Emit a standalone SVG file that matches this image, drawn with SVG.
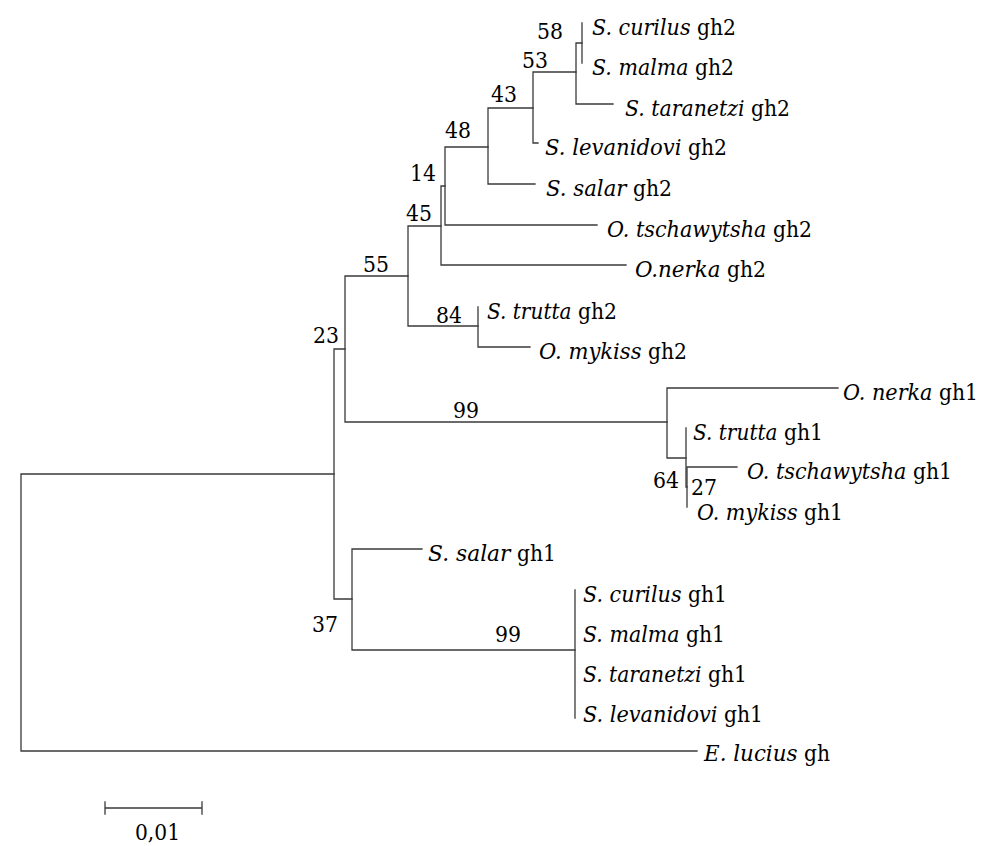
<svg xmlns="http://www.w3.org/2000/svg" width="999" height="846" viewBox="0 0 999 846">
<style>
  .br { fill: none; stroke: #3a3a3a; stroke-width: 1.3; stroke-linecap: square; }
  .t { font-family: 'DejaVu Serif', 'Liberation Serif', serif; font-size: 22px; fill: #000; }
  .i { font-style: italic; }
</style>
<rect width="999" height="846" fill="#fff"/>
<g id="connectors">
  <path class="br" d="M21 474 V611.5 M21 613 V751 M21 474 H334 M21 751 H697"/>
  <path class="br" d="M334 349 V599 M334 349 H345 M334 599 H352"/>
  <path class="br" d="M345 276 V422 M345 276 H408 M345 422 H667"/>
  <path class="br" d="M408 226 V326 M408 226 H441 M408 326 H478"/>
  <path class="br" d="M441 186 V265 M441 186 H445 M441 265 H626"/>
  <path class="br" d="M445 147 V225 M445 147 H488 M445 225 H597"/>
  <path class="br" d="M488 108 V184 M488 108 H533 M488 184 H535"/>
  <path class="br" d="M533 72 V143 M533 72 H576 M533 143 H538"/>
  <path class="br" d="M576 43 V104 M576 43 H582 M576 104 H613"/>
  <path class="br" d="M582 23 V63"/>
  <path class="br" d="M478 307 V347 M478 347 H530"/>
  <path class="br" d="M667 388 V458 M667 388 H838 M667 458 H686"/>
  <path class="br" d="M686 428 V487 M686 487 H687"/>
  <path class="br" d="M687 467 V507 M687 467 H737"/>
  <path class="br" d="M352 549 V650 M352 549 H422 M352 650 H575"/>
  <path class="br" d="M575 590 V718"/>
</g>
<g id="bootstrap">
  <g id="n58"><text class="t" x="537" y="39" textLength="26" lengthAdjust="spacingAndGlyphs">58</text></g>
  <g id="n53"><text class="t" x="522" y="68" textLength="26" lengthAdjust="spacingAndGlyphs">53</text></g>
  <g id="n43"><text class="t" x="491" y="102" textLength="26" lengthAdjust="spacingAndGlyphs">43</text></g>
  <g id="n48"><text class="t" x="445" y="138" textLength="26" lengthAdjust="spacingAndGlyphs">48</text></g>
  <g id="n14"><text class="t" x="410" y="181" textLength="26" lengthAdjust="spacingAndGlyphs">14</text></g>
  <g id="n45"><text class="t" x="406" y="221" textLength="26" lengthAdjust="spacingAndGlyphs">45</text></g>
  <g id="n55"><text class="t" x="363" y="272" textLength="26" lengthAdjust="spacingAndGlyphs">55</text></g>
  <g id="n84"><text class="t" x="436" y="323" textLength="26" lengthAdjust="spacingAndGlyphs">84</text></g>
  <g id="n23"><text class="t" x="313" y="343" textLength="26" lengthAdjust="spacingAndGlyphs">23</text></g>
  <g id="n99a"><text class="t" x="453" y="418" textLength="26" lengthAdjust="spacingAndGlyphs">99</text></g>
  <g id="n64"><text class="t" x="653" y="488" textLength="26" lengthAdjust="spacingAndGlyphs">64</text></g>
  <g id="n27"><text class="t" x="691" y="495" textLength="26" lengthAdjust="spacingAndGlyphs">27</text></g>
  <g id="n37"><text class="t" x="312" y="632" textLength="26" lengthAdjust="spacingAndGlyphs">37</text></g>
  <g id="n99b"><text class="t" x="495" y="642" textLength="26" lengthAdjust="spacingAndGlyphs">99</text></g>
</g>
<g id="leaves">
  <g id="scur2"><text class="t i" x="592" y="35" textLength="98.5" lengthAdjust="spacingAndGlyphs">S. curilus</text><text class="t" x="697" y="35" textLength="39" lengthAdjust="spacingAndGlyphs">gh2</text></g>
  <g id="smal2"><text class="t i" x="592" y="75" textLength="96.5" lengthAdjust="spacingAndGlyphs">S. malma</text><text class="t" x="695" y="75" textLength="39" lengthAdjust="spacingAndGlyphs">gh2</text></g>
  <g id="star2"><text class="t i" x="625" y="116" textLength="119.5" lengthAdjust="spacingAndGlyphs">S. taranetzi</text><text class="t" x="751" y="116" textLength="39" lengthAdjust="spacingAndGlyphs">gh2</text></g>
  <g id="slev2"><text class="t i" x="545" y="155" textLength="136.5" lengthAdjust="spacingAndGlyphs">S. levanidovi</text><text class="t" x="688" y="155" textLength="39" lengthAdjust="spacingAndGlyphs">gh2</text></g>
  <g id="ssal2"><text class="t i" x="546" y="196" textLength="80.5" lengthAdjust="spacingAndGlyphs">S. salar</text><text class="t" x="633" y="196" textLength="39" lengthAdjust="spacingAndGlyphs">gh2</text></g>
  <g id="otsc2"><text class="t i" x="607" y="237" textLength="159.5" lengthAdjust="spacingAndGlyphs">O. tschawytsha</text><text class="t" x="773" y="237" textLength="39" lengthAdjust="spacingAndGlyphs">gh2</text></g>
  <g id="oner2"><text class="t i" x="635" y="277" textLength="85.5" lengthAdjust="spacingAndGlyphs">O.nerka</text><text class="t" x="727" y="277" textLength="39" lengthAdjust="spacingAndGlyphs">gh2</text></g>
  <g id="stru2"><text class="t i" x="487" y="319" textLength="84.5" lengthAdjust="spacingAndGlyphs">S. trutta</text><text class="t" x="578" y="319" textLength="39" lengthAdjust="spacingAndGlyphs">gh2</text></g>
  <g id="omyk2"><text class="t i" x="539" y="359" textLength="102.5" lengthAdjust="spacingAndGlyphs">O. mykiss</text><text class="t" x="648" y="359" textLength="39" lengthAdjust="spacingAndGlyphs">gh2</text></g>
  <g id="oner1"><text class="t i" x="843" y="400" textLength="89.5" lengthAdjust="spacingAndGlyphs">O. nerka</text><text class="t" x="939" y="400" textLength="39" lengthAdjust="spacingAndGlyphs">gh1</text></g>
  <g id="stru1"><text class="t i" x="693" y="440" textLength="84.5" lengthAdjust="spacingAndGlyphs">S. trutta</text><text class="t" x="784" y="440" textLength="39" lengthAdjust="spacingAndGlyphs">gh1</text></g>
  <g id="otsc1"><text class="t i" x="747" y="479" textLength="159.5" lengthAdjust="spacingAndGlyphs">O. tschawytsha</text><text class="t" x="913" y="479" textLength="39" lengthAdjust="spacingAndGlyphs">gh1</text></g>
  <g id="omyk1"><text class="t i" x="697" y="520" textLength="100.5" lengthAdjust="spacingAndGlyphs">O. mykiss</text><text class="t" x="804" y="520" textLength="39" lengthAdjust="spacingAndGlyphs">gh1</text></g>
  <g id="ssal1"><text class="t i" x="428" y="561" textLength="82.5" lengthAdjust="spacingAndGlyphs">S. salar</text><text class="t" x="517" y="561" textLength="39" lengthAdjust="spacingAndGlyphs">gh1</text></g>
  <g id="scur1"><text class="t i" x="583" y="602" textLength="98.5" lengthAdjust="spacingAndGlyphs">S. curilus</text><text class="t" x="688" y="602" textLength="39" lengthAdjust="spacingAndGlyphs">gh1</text></g>
  <g id="smal1"><text class="t i" x="583" y="642" textLength="96.5" lengthAdjust="spacingAndGlyphs">S. malma</text><text class="t" x="686" y="642" textLength="39" lengthAdjust="spacingAndGlyphs">gh1</text></g>
  <g id="star1"><text class="t i" x="583" y="682" textLength="118.5" lengthAdjust="spacingAndGlyphs">S. taranetzi</text><text class="t" x="708" y="682" textLength="39" lengthAdjust="spacingAndGlyphs">gh1</text></g>
  <g id="slev1"><text class="t i" x="583" y="722" textLength="134.5" lengthAdjust="spacingAndGlyphs">S. levanidovi</text><text class="t" x="724" y="722" textLength="39" lengthAdjust="spacingAndGlyphs">gh1</text></g>
  <g id="eluc"><text class="t i" x="704" y="761" textLength="93.5" lengthAdjust="spacingAndGlyphs">E. lucius</text><text class="t" x="804" y="761" textLength="26" lengthAdjust="spacingAndGlyphs">gh</text></g>
</g>
<g id="scalebar">
  <path class="br" d="M105 808 H202 M105 802 V814 M202 802 V814"/>
  <text class="t" x="135" y="840" textLength="45" lengthAdjust="spacingAndGlyphs">0,01</text>
</g>
</svg>
